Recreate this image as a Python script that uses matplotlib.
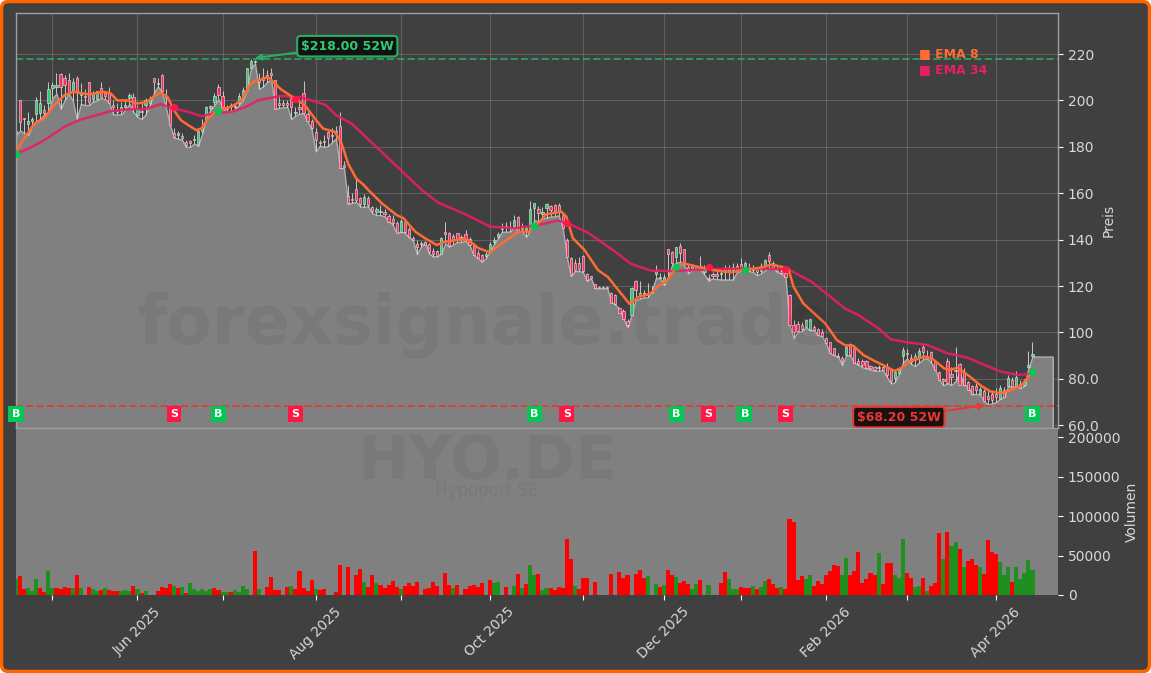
import numpy as np
import matplotlib
matplotlib.use('Agg')
import matplotlib.pyplot as plt
from matplotlib.patches import FancyBboxPatch

# candle values (lows also form the grey area)
lows = [185,187,186,185,189,191,192,194,195,201,
        203,196.5,200,203,200,192,198.5,198,198,199.5,
        200,201,200.5,199,194,194,194,196,198.5,195,
        193,192,194,198,203,206,204,197,189.5,184,
        183.5,183,180,180,181.5,180.5,186,192.3,196,198,
        200.5,197,195,195.5,196,198,200,204.5,213.8,216,
        205,206,208,209,196.5,196.8,197,197.3,192,193.5,
        194.4,194.4,191,187.5,178,180.5,180,180.3,182,183.6,
        171,170.7,155.3,156,156.3,154.2,154.2,154.2,151.5,150.6,
        150.6,150,148,146.5,143,143.4,143,141,139.8,133.8,
        137,139,134,132.7,132.9,134,138.4,137,138,139,
        139,139.5,137.5,133.4,132,130.5,132,134.8,138,140.6,
        143.4,143.4,143.5,145.5,143.4,143.3,141.3,144.2,148.5,147.7,
        149,149.5,150,150,150.5,144.9,132.7,124.3,126.5,126.5,
        126,122.3,123.3,119,119,119,119,113,112,110,
        106,102.2,107.5,114,114.5,115,115.2,118,123.3,123.5,
        120.4,124,129,130,130.5,129,125.5,127,127,127,
        125,122.3,123.3,123,122.8,122.8,122.8,122.8,126,126.5,
        127.6,126.5,126,124.7,125.5,126.9,128,127.6,126,125.3,
        124,103.2,97.4,100.3,100.5,102.2,101,101,98.8,98.4,
        95.3,91,90.2,89.5,85.9,90.2,90,87,86,85,
        84.5,84,83.5,83.5,83.8,81,78,78.5,82,87,
        88.8,86.5,85.5,87,88.5,88.8,87,83.8,79.5,77.3,
        78,77.3,79,83,77.3,77,73.3,73.5,73.3,70.6,
        68.7,69.5,70,71.3,72.3,77,76.6,76.8,76.2,77,84.5,89.6]
highs = [187,200,192.5,195,193,201.5,204,198,208,208,
         212,212,211,212,209.5,210.5,207.5,205,208,204,
         204,208,204,206,200,199,199.5,200,203,203,
         198,199,201,202,209.6,209.5,211.5,205,198,188,
         187,186,183,183,185,187.5,192,197.5,198,203,
         207.3,204,198,199,198.5,203,206,214,218,217.5,
         212,214,213,214,209,202.5,200,200,202,197,
         200.5,208.5,195,192,188,183,185,187,188,189,
         195,174,163.5,160,166.4,158.5,159.5,159,154.5,154,
         155,153,151,150.5,148,149,148.5,145.5,141.5,140,
         139.5,139.5,138.5,136.5,135.5,141,147.7,143.5,142.5,143,
         142,144,141,138.5,135.5,134,135,139,141,143.5,
         147,147.5,148,150.5,150,147,146,156.6,156,154.5,
         154,155.8,155,155.5,156,151,140.5,132.5,131.5,132.5,
         133.5,125.5,124.5,121,120,120,120,117.5,116.5,111,
         110,106,119.5,122.5,122.2,118.5,121.5,120,129,125.5,
         125,136,135,137,138.6,136,130,129.5,129,133,
         129,125,126,127,127.3,129,129,130,130,132,
         131,130,129,128,130,131.5,134.8,131,129,128,
         126,116.5,105.5,105,104.5,106,106,103,102,101.5,
         98,96,93.5,91,90,94.5,95.5,93.8,89,88.5,
         88,86,85.5,86,85.5,87,84,83.5,85,93.8,
         93,90.5,91,93.5,94.8,92.5,92,88,83.5,80.5,
         89,85,93.9,87,84.5,79,77.5,78,76.5,75.5,
         75,75,76,77.5,76.5,81.5,81,83.5,79.5,80,92,95.7]
opens = [186,200,192.3,190,191,194,194.5,196,199,205.5,
         206,211.6,209.5,208.8,204,209.5,202.5,202,207.8,200.5,
         200.5,205.5,203,203.7,198,196,195.5,197,201,201.6,
         193.7,195.5,198,199,209.5,207,211,202,197,186,
         185,184.5,182,182.5,183,181,187,192.2,196.8,199.4,
         206,201.9,197,198,197,198.7,201.6,204.7,213.8,216.5,
         209,210,211,212,208.8,199,199,199,200.9,194.5,
         197,203,194,191,186.5,182,182.5,186.5,185,187,
         189,172,159,157.5,162,158,155.4,158,153.9,152,
         152,152,150.2,149,147,143.4,147.5,144.4,140.5,138,
         138.5,139,138,135,135,134,143.4,143,141.5,142.7,
         141,142.3,140.1,137.3,134.4,133.2,133,135,139,141,
         144.5,145.5,145,146,149.6,145,144,144.2,153.5,153,
         151,153.5,154.6,154.8,155,150.6,139.8,132,130,130,
         133,125,124.3,120.7,119.5,119.5,119.5,116.9,116,110.4,
         109.2,105,107.5,122.2,117,116,116,117,125,124,
         121,135.8,134.5,132.7,137.3,135.8,128,127.5,128,127.5,
         126,123.5,125,125,125,126,126,127,127,129.7,
         127.6,128,127,127.2,126.4,128.6,133.3,129.8,127.6,126.6,
         125.5,116,103,103.5,103,102.5,101,102.5,101.3,100.3,
         97.8,95.7,93.1,90,89,90.2,95.2,93.5,87.5,87.5,
         87.8,85.5,85,84.5,85,85,83.8,80.2,82.5,90,
         91,89.1,90,89.3,93.6,90,91.4,87.4,82.8,80,
         87.5,82,84,86.5,83,78.5,76.9,77,73.3,74.8,
         72.8,73.3,73.5,71.3,75.2,77,79.5,77,77.6,77.5,85,90]
closes = [187,190.5,191.8,191,192,200,199,194.5,205,206.5,
          206.5,206,206.6,203,208,203.7,203.5,201.5,199.4,203,
          204,201.6,202,198.7,197,195,197,198,202.3,196.5,
          196.5,195,200,200,208,207.5,204,201,189.5,184.2,
          186,184,181,181.5,183.5,187,188,197,197.5,201.9,
          202.3,197.3,196.5,197.5,197.5,201.9,204.5,213.8,217,217,
          208,209,210,211,196.5,198,198,198.2,197,195.2,
          196.5,194.8,191.2,188,183,181.5,182,183.6,184.5,186,
          170.7,171.5,155.6,157,157,155.3,158.2,155,152.5,153,
          152.5,151,147.7,147,143,148,143.4,141,140,137,
          138,137.5,134.5,134,133,140.6,142.3,137.3,140,139.8,
          140.5,140.1,137.7,133.4,132,131,134,138,140,142.5,
          145,146,145.5,148.5,143.4,144.5,145,153,155.6,151.3,
          152,155.2,152.8,152.5,152,144.9,132.7,124.8,127,127.5,
          126.5,122.5,123.5,119,119.2,119.2,119.2,112.8,112.2,108.5,
          106,103,119,118.3,116,117,117,118,127,123.5,
          124,133.7,129.8,136.7,134.4,129.8,127,128.5,127.5,128.5,
          127,123,124.5,124.5,125.5,127.5,127.5,128,128.5,127.6,
          130,127,127.6,126.2,128.6,131.2,130.9,127.6,126.4,125.7,
          124,103.2,100,100.8,101.5,105.5,105.7,101,98.8,98.4,
          95.3,91,90.2,89.3,87.5,93.8,90.2,87,86.5,86,
          84.5,84.5,84,85,84,81.5,79,82.8,84.5,92.4,
          90.5,87.1,88,92,91.4,89,88.6,83.8,79.5,79.2,
          78,81,83.5,77.5,77.3,75,73.3,75,75.5,70.6,
          71.3,70.9,72,75.9,72.3,80.5,76.6,80.9,76.2,78.5,86,90.5]
area_tail = [89.6, 89.6, 89.6, 89.6, 89.6]

volume = [20000,24000,7000,8500,5000,20000,9000,4000,31000,8500,
          8500,7500,10000,9000,8500,25000,8500,0,10000,7000,
          5000,6000,8500,6000,5000,5000,5000,6000,5000,11000,
          7000,2500,5000,0,0,5000,10000,8500,13500,11000,
          8500,10000,2500,15000,7000,5000,7000,5000,7000,9000,
          6000,3500,3500,3500,6000,3500,11000,7000,0,56000,
          7000,0,10000,23000,6000,6000,0,10000,11000,7000,
          30000,9000,5000,18500,7000,6000,7000,0,0,3500,
          38000,0,35500,0,25000,32500,16500,10000,25000,15000,
          12500,9000,12500,18000,10000,7000,11500,15500,11500,16500,
          0,8000,9000,16500,11500,0,28000,12500,9000,12500,
          0,8000,11500,12500,10500,15000,0,19000,15000,16500,
          0,10000,0,11500,26500,9000,14000,38000,25000,26500,
          6500,9000,9000,6500,10000,9000,71000,45500,11500,7500,
          21500,21500,0,16500,0,0,0,26500,0,29000,
          21500,25000,0,26500,31500,21500,24000,0,14000,10000,
          12500,31500,25000,23000,15000,17500,14000,7500,14000,19000,
          0,12500,0,0,15000,29000,20000,7500,7500,10000,
          9000,9000,11500,7500,10000,17500,20000,14000,9000,10000,
          7500,96000,92000,19000,24000,20000,25000,12000,18000,14000,
          25000,30000,38000,37000,25000,47000,25000,31000,55000,15000,
          20000,28000,25000,53000,14000,41000,41000,25000,22000,71000,
          28000,22000,10000,12000,21000,5000,12000,15000,78000,45000,
          80000,62000,67000,58000,35000,43000,45000,38000,36000,27000,
          70000,55000,52000,42000,25000,35000,17000,36000,20000,28000,44000,32000]
volume_up = [1,0,0,1,1,1,0,0,1,1,
             0,0,0,0,1,0,1,0,0,1,
             1,0,1,0,0,0,1,1,1,0,
             1,0,1,0,0,0,0,0,0,1,
             0,1,0,1,1,1,1,1,1,0,
             0,1,1,0,1,1,1,1,0,0,
             1,0,0,0,0,0,0,0,1,0,
             0,0,0,0,1,0,0,0,0,0,
             0,0,0,0,0,0,1,0,0,1,
             0,0,0,0,0,1,0,0,0,0,
             0,0,0,0,0,0,0,0,1,0,
             0,0,0,0,0,0,0,0,1,1,
             0,0,0,1,0,1,0,1,1,0,
             1,1,0,0,0,0,0,0,1,0,
             0,0,0,0,0,0,0,0,0,0,
             0,0,0,0,0,0,1,0,1,0,
             1,0,0,1,0,0,0,1,1,0,
             0,1,0,0,0,0,1,1,1,0,
             0,0,1,0,1,1,0,0,0,1,
             0,0,0,0,0,1,1,0,0,0,
             0,0,0,0,1,1,0,0,0,0,
             0,0,0,1,0,0,0,1,1,1,
             0,0,1,1,0,1,0,0,0,1,
             0,1,1,0,1,0,0,0,1,0,
             0,0,0,1,1,1,0,1,1,1,1,1]

# EMA lines, read at the bends
ema8_x = [0,2,4.5,7,9.4,12,14.3,18,21.7,23.4,25,27.5,30,32.4,34.5,35.7,37.4,39,40.7,
          42.5,44.5,45.8,47.4,49.9,53.2,55.7,57.7,59,60.2,62.2,63.5,65.5,68.8,71.3,73.8,75.8,78.7,80.4,82,84,85.9,
          87,90.3,94,95.7,98.6,101,103.9,106,110.1,111.7,114.2,117.1,120,124.1,126.6,128.9,
          131,134.7,135.9,137.5,140.4,143.7,146.2,148.7,151.5,153.6,156.5,158.9,160.6,162.6,164.7,167.6,171.8,
          176.7,180.9,184.1,186.6,190.7,192,194.4,199.8,202.7,204.7,206.8,209.3,212.1,214.4,
          216.9,218.5,220.6,224.3,226.3,229.2,230.4,232.5,235,238.3,240.7,243.2,245.7,248.1,249.4,250.6]
ema8_y = [177.9,183.6,190,192.2,198,202.3,203.7,202.6,203.7,203,200,200,198.7,199.4,202.3,203.4,201.6,195.8,191.5,
          189.4,187.2,187.9,192.2,195.8,197.3,200,206.6,208.5,208.8,210.2,208,204.7,200.9,198,192.2,187.9,186.5,181.5,172.8,166.4,163.5,
          161.4,155.7,150.6,149.2,143.4,140.6,137.7,139.1,140.1,139.8,136.3,134.5,138.4,143.4,143.4,147,
          151,152,149.9,140.6,135.5,126.9,123.8,118.3,112.3,115.1,116.6,120.4,121.9,126.9,129.8,128.6,126.9,
          125.9,127.2,128,129.3,127.6,119.7,112.5,103.9,96.7,94.5,94.2,90.2,87.6,85.7,
          83.4,84.5,87.4,89.6,88.6,84.5,83.8,84.8,81.7,77,74.5,73.8,75.2,77,79.5,82.4]
ema34_x = [0,3.6,7,12,16,20,23.4,27.5,32.4,35.7,39,42.5,45.8,49.1,53.2,56.5,59.8,65.5,70.8,76.5,79,82.9,
           100.2,104.3,110.9,117.1,123.3,128.9,133.8,136.7,141.2,147.4,151.9,156.9,162.6,172.4,
           180,190.7,196.5,200.6,204.7,208,213,216,220.2,225,230,235,239.1,243.2,247.3,250.6]
ema34_y = [176.9,179.7,182.9,188.7,191.8,193.7,195.4,196.1,196.5,198.4,196.5,195.1,193.2,194.4,195.1,197,200.1,202,201.2,198,193.7,190,
           161.4,155.9,151,145.6,144.9,146.3,148.2,146.7,143,135.5,129.5,126.6,126.5,127.3,
           127.6,127.2,121.8,116.1,110.3,107.5,101.7,97,95.7,94.6,91,89.1,86,83.1,81.7,82.1]

# buy / sell signals: bar, price of the dot
buy_x = [0, 50, 128, 163, 180, 251]
buy_y = [177, 195.4, 146, 128, 127, 83]
sell_x = [39, 69, 136, 171, 190]
sell_y = [197, 200.6, 147, 128, 127.5]
signal_label_y = 64.8

high_52w = 218.0
low_52w = 68.2

month_ticks = [9, 30, 51, 74, 95, 117, 140, 160, 179, 200, 220, 242]
month_labels = ['', 'Jun 2025', '', 'Aug 2025', '', 'Oct 2025', '', 'Dec 2025', '', 'Feb 2026', '', 'Apr 2026']
price_ticks = [60, 80, 100, 120, 140, 160, 180, 200, 220]
price_labels = ['60.0', '80.0', '100', '120', '140', '160', '180', '200', '220']
volume_ticks = [0, 50000, 100000, 150000, 200000]

W, H = 1151, 673
BG = '#404040'
ORANGE = '#ff6b35'
PINK = '#e91e63'
GREEN = '#27ae60'
TXT = '#d8d8d8'

fig = plt.figure(figsize=(W / 100, H / 100), dpi=100, facecolor='white')
fig.patches.append(FancyBboxPatch((1.5, 1.5), W - 3, H - 3, boxstyle='round,pad=0,rounding_size=7',
                                  transform=None, facecolor=BG, edgecolor='#ff6600', linewidth=2.5, zorder=-5))

ax = fig.add_axes([16 / W, 1 - 428 / H, 1042 / W, 415 / H], facecolor=BG)
axv = fig.add_axes([16 / W, 1 - 595 / H, 1042 / W, 167 / H], facecolor='#808080')

n = len(closes)
idx = np.arange(n)
area = lows + area_tail
opens_a = np.array(opens)
closes_a = np.array(closes)

ax.grid(True, color='white', alpha=0.17, linewidth=0.8)
ax.set_axisbelow(True)

# grey area
ax.fill_between(np.arange(len(area)), area, 0, facecolor='#808080', edgecolor='#b0b0b0', linewidth=1, zorder=1.5)

# candles
ax.vlines(idx, lows, highs, color='#e0e0e0', linewidth=0.7, alpha=0.85, zorder=2)
body_cols = ['#2ecc71' if c > o else '#ff2d5f' for o, c in zip(opens, closes)]
ax.bar(idx, np.abs(closes_a - opens_a), bottom=np.minimum(opens_a, closes_a), width=0.55,
       color=body_cols, edgecolor='#f0e6e6', linewidth=0.4, zorder=2.2)

ax.axhline(high_52w, color=GREEN, linestyle='--', linewidth=1.4, alpha=0.8, zorder=2.5)
ax.axhline(low_52w, color='#e53935', linestyle='--', linewidth=1.4, alpha=0.9, zorder=2.5)

ax.plot(ema34_x, ema34_y, color=PINK, linewidth=1.8, alpha=0.9, zorder=3)
ax.plot(ema8_x, ema8_y, color=ORANGE, linewidth=1.8, zorder=3.2)

ax.scatter(buy_x, buy_y, s=18, color='#00c853', zorder=4)
ax.scatter(sell_x, sell_y, s=18, color='#ff1744', zorder=4)

for x in buy_x:
    ax.text(x, signal_label_y, 'B', color='white', fontsize=8, fontweight='bold', ha='center', va='center',
            bbox=dict(boxstyle='square,pad=0.3', facecolor='#00c853', edgecolor='none'), zorder=5, clip_on=False)
for x in sell_x:
    ax.text(x, signal_label_y, 'S', color='white', fontsize=8, fontweight='bold', ha='center', va='center',
            bbox=dict(boxstyle='square,pad=0.3', facecolor='#ff1744', edgecolor='none'), zorder=5)

ax.annotate('$218.00 52W', xy=(59, 218.3), xytext=(81.8, 223.4), color='#2ecc71', fontsize=9, fontweight='bold',
            ha='center', va='center', zorder=6,
            bbox=dict(boxstyle='round,pad=0.3', facecolor='#111111', edgecolor=GREEN, linewidth=1.5),
            arrowprops=dict(arrowstyle='-|>', color=GREEN, linewidth=1.5, shrinkA=0, shrinkB=0))
ax.annotate('$68.20 52W', xy=(239.3, 68.6), xytext=(218, 63.5), color='#e53935', fontsize=9, fontweight='bold',
            ha='center', va='center', zorder=6,
            bbox=dict(boxstyle='round,pad=0.3', facecolor='#1a1010', edgecolor='#e53935', linewidth=1.5),
            arrowprops=dict(arrowstyle='-|>', color='#e53935', linewidth=1.5, shrinkA=0, shrinkB=0))

ax.text(0.867, 0.902, '■ EMA 8', transform=ax.transAxes, color=ORANGE, fontsize=9, fontweight='bold', va='center', zorder=6)
ax.text(0.867, 0.864, '■ EMA 34', transform=ax.transAxes, color=PINK, fontsize=9, fontweight='bold', va='center', zorder=6)

ax.set_xlim(0, 257.3)
ax.set_ylim(58.8, 237.7)
ax.set_xticks(month_ticks)
ax.tick_params(axis='x', length=0, labelbottom=False)
ax.yaxis.tick_right()
ax.yaxis.set_label_position('right')
ax.set_yticks(price_ticks)
ax.set_yticklabels(price_labels)
ax.tick_params(axis='y', colors=TXT, labelsize=10, color='white')
ax.set_ylabel('Preis', color=TXT, fontsize=10, labelpad=2)
for s in ax.spines.values():
    s.set_color('#a0a0a0')
    s.set_linewidth(1)

# volume panel
vol_cols = ['#1f8f1f' if u else '#ff0000' for u in volume_up]
axv.bar(idx, volume, width=1.0, color=vol_cols, linewidth=0)
axv.set_xlim(0, 257.3)
axv.set_ylim(0, 211400)
axv.set_xticks(month_ticks)
axv.set_xticklabels(month_labels, rotation=45, ha='center', rotation_mode='default')
axv.yaxis.tick_right()
axv.yaxis.set_label_position('right')
axv.set_yticks(volume_ticks)
axv.tick_params(axis='both', colors=TXT, labelsize=10, color='white')
axv.set_ylabel('Volumen', color=TXT, fontsize=10, labelpad=3)
for name, s in axv.spines.items():
    s.set_visible(name == 'top')
    s.set_color('#a0a0a0')

# watermark
fig.text(485 / W, 1 - 325 / H, 'forexsignale.trade', color='black', alpha=0.05, fontsize=48, fontweight='bold',
         ha='center', va='center')
fig.text(487 / W, 1 - 463 / H, 'HYO.DE', color='black', alpha=0.05, fontsize=44, fontweight='bold',
         ha='center', va='center')
fig.text(487 / W, 1 - 491 / H, 'Hypoport SE', color='black', alpha=0.05, fontsize=12, ha='center', va='center')

fig.savefig('out.png', dpi=100, facecolor=fig.get_facecolor())
